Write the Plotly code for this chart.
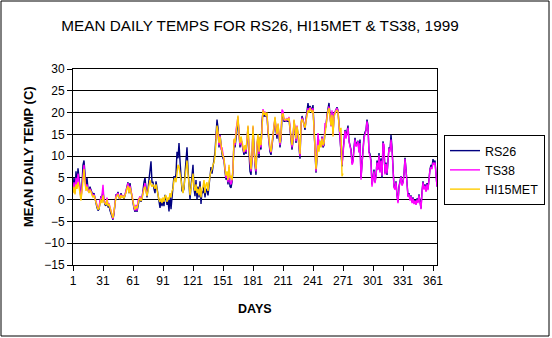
import plotly.graph_objects as go

days = list(range(1, 366))
x_tick_vals = [1, 31, 61, 91, 121, 151, 181, 211, 241, 271, 301, 331, 361]
y_tick_vals = [-15, -10, -5, 0, 5, 10, 15, 20, 25, 30]

rs26 = [
    2.5, 5.0, 2.0, 6.5, 3.5, 7.2, 5.0, 1.5, 0.2, 3.5,
    8.0, 9.0, 5.0, 3.0, 5.0, 2.5, 2.0, 3.0, 2.2, 1.5,
    1.0, 1.5, 0.0, -0.8, -1.8, -2.5, -2.2, 0.0, 0.8, 0.5,
    2.0, -0.2, -1.2, -1.4, 0.2, -1.8, -1.2, -2.5, -3.2, -4.0,
    -4.6, -3.2, -1.2, 1.2, 1.0, 1.8, 0.5, 0.0, 1.5, 0.8,
    0.8, 0.2, 1.0, 2.0, 3.0, 4.0, 1.5, 3.8, 2.0, 0.5,
    -0.8, -2.0, -2.8, -1.8, -2.8, -0.8, -0.2, 0.6, -0.5, 0.3,
    2.5, 4.0, 5.0, 2.0, 0.5, 2.5, 5.0, 6.0, 8.8, 4.0,
    4.0, 2.5, 1.5, 4.2, 2.5, 0.5, -1.0, -1.9, 0.0, -1.5,
    0.0, -1.5, 1.1, 0.5, -1.2, 0.0, -2.7, 1.0, -2.2, 1.5,
    3.0, 5.4, 4.5, 6.0, 11.0, 9.5, 13.0, 9.0, 5.0, 2.0,
    1.8, 2.5, 6.0, 9.5, 12.0, 7.0, 2.0, 0.0, 3.0, 6.5,
    8.0, 2.5, 0.8, 4.5, 0.0, 3.0, 0.5, 4.2, -1.0, 2.0,
    1.5, 3.0, 0.5, 2.5, 2.0, 1.0, 3.5, 5.5, 7.5, 6.0,
    8.5, 9.2, 11.0, 16.0, 18.4, 16.5, 12.0, 15.0, 11.5, 10.5,
    9.5, 9.0, 6.5, 4.6, 5.5, 3.5, 7.0, 3.0, 2.7, 4.0,
    6.5, 13.5, 12.0, 15.0, 16.0, 18.5, 14.5, 12.0, 14.0, 12.5,
    11.5, 10.3, 12.0, 10.5, 13.5, 16.5, 11.0, 6.5, 5.7, 9.0,
    16.5, 10.5, 8.0, 5.7, 12.5, 14.0, 9.6, 14.0, 11.5, 18.0,
    20.3, 19.0, 19.8, 19.0, 19.5, 15.5, 13.0, 11.0, 10.3, 12.5,
    15.5, 17.5, 18.5, 16.0, 14.0, 17.0, 13.5, 12.0, 14.0, 19.0,
    19.5, 18.0, 18.0, 18.2, 18.0, 18.0, 18.5, 16.0, 13.0, 11.5,
    13.5, 18.0, 16.0, 13.0, 16.5, 15.0, 12.0, 9.4, 17.0, 19.2,
    18.5, 17.5, 16.0, 18.5, 21.0, 22.2, 20.5, 21.5, 21.0, 20.5,
    21.7, 17.5, 11.5, 6.2, 9.5, 14.5, 13.0, 13.0, 12.5, 14.5,
    12.0, 12.5, 16.0, 17.0, 19.5, 21.0, 22.2, 19.5, 17.0, 20.0,
    15.0, 19.5, 20.2, 20.8, 21.2, 20.5, 17.5, 14.5, 10.0, 7.6,
    11.0, 14.5, 16.0, 14.5, 15.5, 17.0, 13.5, 12.5, 11.5, 8.4,
    9.0, 12.0, 14.2, 12.5, 13.0, 13.5, 11.0, 13.8, 5.0, 8.5,
    12.5, 14.5, 15.5, 16.0, 18.4, 17.0, 11.0, 10.5, 9.0, 3.5,
    5.0, 6.9, 4.0, 5.5, 9.0, 7.0, 10.7, 6.5, 9.5, 5.0,
    13.4, 12.0, 6.0, 8.5, 5.7, 10.7, 12.0, 11.5, 14.9, 12.0,
    6.0, 3.0, 2.5, 4.2, 1.0, -0.4, 3.0, 4.5, 5.4, 3.5,
    4.0, 6.0, 9.6, 7.0, 3.5, 0.8, 1.5, 0.0, 1.0, -0.5,
    0.5, -0.8, 0.0, -1.1, 0.3, -0.5, 1.2, -1.0, -2.0, 1.8,
    4.2, 2.5, 3.5, 2.0, 3.8, 2.5, 5.0, 7.0, 8.0, 7.5,
    9.3, 8.5, 9.0, 5.0, 3.0,
]

ts38 = [
    2.0, 4.0, 1.5, 5.0, 3.0, 6.0, 4.5, 1.2, 0.0, 3.0,
    7.0, 8.0, 4.5, 2.5, 3.5, 2.0, 1.8, 2.5, 2.0, 1.2,
    0.8, 1.2, 0.2, -0.2, -1.2, -2.0, -1.8, -0.2, 0.5, 1.0,
    3.4, 0.0, -0.8, -1.0, 0.5, -1.2, -0.8, -1.8, -2.8, -3.8,
    -4.4, -2.8, -0.8, 1.0, 1.2, 1.5, 0.8, 0.2, 1.2, 0.6,
    1.0, 0.5, 1.2, 1.8, 2.8, 3.8, 1.8, 3.2, 2.2, 0.8,
    -0.2, -1.8, -2.5, -1.2, -2.5, -0.2, 0.3, 0.8, 0.0, 0.5,
    1.8, 3.2, 3.8, 2.3, 1.0, None, None, None, None, None,
    None, None, None, None, None, None, None, None, None, None,
    None, None, None, None, None, None, None, None, None, None,
    None, None, None, None, None, None, None, None, None, None,
    None, None, None, None, None, None, None, None, None, None,
    None, None, None, None, None, None, None, None, None, None,
    None, None, None, None, None, None, None, None, None, None,
    None, None, None, 14.0, 16.5, 15.3, 12.5, 14.8, 11.5, 12.0,
    10.5, 9.8, 7.5, 5.0, 6.0, 4.0, 7.5, 4.0, 3.5, 4.5,
    7.0, 13.8, 12.5, 16.0, 17.5, 19.0, 14.8, 12.5, 13.8, 13.0,
    12.0, 10.8, 12.3, 11.0, 13.8, 16.8, 11.5, 7.5, 6.5, 9.5,
    16.8, 10.8, 8.5, 6.5, 12.8, 14.5, 10.5, 14.3, 12.0, 19.0,
    20.8, 19.8, 20.2, 19.5, 19.8, 15.8, 13.3, 11.5, 10.8, 12.8,
    15.8, 17.8, 18.8, 16.3, 14.8, 17.3, 14.0, 12.5, 14.5, 20.7,
    20.3, 18.2, 18.5, 18.2, 18.6, 18.4, 19.0, 16.8, 13.5, 12.0,
    13.8, 18.2, 16.3, 13.5, 17.0, 15.2, 12.5, 10.0, 17.3, 18.8,
    18.3, 17.2, 16.5, 18.3, 20.2, 21.0, 20.3, 21.2, 20.8, 20.3,
    21.0, 17.3, 11.8, 6.5, 10.0, 15.3, 12.5, 13.2, 12.2, 14.3,
    12.3, 12.8, 17.6, 16.8, 19.3, 20.8, 21.4, 19.2, 16.8, 20.5,
    14.8, 19.8, 20.3, 20.6, 21.0, 20.4, 17.2, 14.0, 9.5, 8.0,
    10.5, 14.0, 15.8, 14.0, 15.3, 16.5, 13.3, 12.0, 11.2, 8.0,
    8.5, 11.5, 13.8, 12.2, 12.6, 13.4, 10.8, 13.0, 4.6, 8.0,
    12.0, 14.0, 15.0, 15.8, 18.0, 16.5, 10.8, 10.0, 8.5, 3.0,
    4.8, 6.5, 3.8, 5.2, 8.5, 6.8, 10.2, 6.2, 9.0, 5.5,
    13.0, 12.6, 5.8, 8.2, 6.0, 10.5, 11.8, 11.0, 13.8, 11.5,
    5.8, 2.8, 2.3, 4.0, 0.8, -0.8, 2.8, 4.2, 5.3, 3.2,
    3.8, 5.8, 9.3, 6.8, 3.2, 0.6, 1.2, -0.2, 0.8, -0.8,
    0.3, -1.0, -0.2, -1.2, 0.0, -0.8, 1.0, -1.2, -2.2, 1.5,
    4.0, 2.3, 3.2, 1.8, 3.5, 2.2, 4.8, 6.9, 7.5, 7.0,
    8.5, 8.0, 8.5, 4.8, 3.0,
]

hi15met = [
    1.5, 3.0, 1.2, 3.5, 2.5, 4.0, 3.0, 1.0, -0.2, 2.0,
    6.0, 7.0, 4.0, 2.0, 3.0, 2.0, 1.5, 2.2, 1.8, 1.0,
    0.5, 1.0, 0.0, -0.5, -1.5, -2.3, -2.0, -0.5, 0.0, -0.8,
    1.0, -0.5, -1.0, -1.2, 0.0, -1.5, -1.0, -2.0, -3.0, -3.5,
    -4.2, -3.0, -1.0, 0.5, 0.8, 1.2, 0.5, 0.2, 1.0, 0.5,
    0.8, 0.3, 1.0, 1.5, 2.5, 3.2, 1.5, 2.8, 1.8, 0.5,
    -0.5, -1.5, -2.3, -1.5, -2.0, -0.5, 0.0, 0.5, -0.3, 0.2,
    1.5, 2.5, 3.0, 1.5, 0.8, 2.0, 3.5, 4.5, 3.5, 3.0,
    3.5, 3.0, 2.5, 3.5, 2.0, 1.0, 0.0, -0.5, 0.3, -0.8,
    0.5, -0.5, 0.8, 1.0, -0.5, 0.5, 0.0, 1.5, 0.5, 2.0,
    2.5, 4.5, 5.0, 4.0, 6.0, 8.0, 7.5, 6.0, 4.0, 2.5,
    1.5, 3.0, 5.0, 7.0, 9.0, 6.0, 3.0, 1.0, 2.5, 4.5,
    6.0, 3.0, 2.0, 3.5, 1.5, 2.5, 1.0, 3.0, 0.5, 2.5,
    3.0, 4.5, 1.5, 3.5, 4.0, 2.0, 4.5, 5.5, 6.5, 7.0,
    8.0, 8.5, 10.0, 14.5, 17.0, 15.5, 13.0, 14.5, 12.0, 11.0,
    10.0, 9.5, 7.0, 5.5, 6.5, 4.5, 8.0, 5.0, 5.5, 4.5,
    7.0, 14.0, 13.0, 15.5, 16.5, 19.3, 15.0, 13.0, 14.5, 13.5,
    12.0, 11.0, 12.5, 11.5, 14.0, 17.0, 12.0, 8.0, 7.0, 10.0,
    17.0, 11.0, 9.0, 7.0, 13.0, 15.0, 11.0, 14.5, 12.5, 18.5,
    20.5, 19.5, 20.0, 19.2, 20.0, 16.0, 13.5, 12.0, 11.0, 13.0,
    16.0, 18.0, 19.0, 16.5, 15.0, 17.5, 14.5, 13.0, 15.0, 19.5,
    19.8, 18.5, 18.3, 18.4, 18.5, 18.3, 18.8, 16.5, 14.0, 12.5,
    14.0, 18.4, 16.5, 14.0, 16.8, 15.5, 13.0, 10.5, 17.5, 18.5,
    18.0, 17.0, 16.5, 18.0, 19.5, 20.5, 20.0, 21.0, 20.5, 20.0,
    20.5, 17.0, 12.0, 7.0, 10.0, 12.5, 11.0, 13.5, 12.0, 14.0,
    12.5, 13.0, 15.0, 17.0, 19.0, 20.5, 21.0, 19.0, 17.0, 19.5,
    14.5, 19.0, 20.0, 20.3, 20.5, 20.2, 17.0, 15.5, 16.5, 5.4,
    6.0,
]

FONT = "Liberation Sans, Arial, sans-serif"
W, H = 552, 338
L, R, T, B = 73, 437, 69, 265  # plot area in pixels

fig = go.Figure()
fig.add_trace(go.Scatter(x=days, y=rs26, name="RS26", mode="lines", legendgroup="a",
                         line=dict(color="#000080", width=1.4)))
fig.add_trace(go.Scatter(x=days, y=ts38, name="TS38", mode="lines", legendgroup="b",
                         line=dict(color="#FF00FF", width=1.4), connectgaps=False))
fig.add_trace(go.Scatter(x=days[:len(hi15met)], y=hi15met, name="HI15MET", mode="lines",
                         legendgroup="c", line=dict(color="#FFCC00", width=1.4)))

pw, ph = R - L, B - T
def px(xp):
    return (xp - L) / pw
def py(yp):
    return (B - yp) / ph

fig.update_layout(
    width=W, height=H,
    margin=dict(l=L, r=W - R, t=T, b=H - B, pad=0, autoexpand=False),
    paper_bgcolor="white", plot_bgcolor="white",
    font=dict(family=FONT, size=12, color="black"),
    title=dict(text="MEAN DAILY TEMPS FOR RS26, HI15MET & TS38, 1999",
               x=260 / W, xanchor="center", y=1 - 26 / H, yanchor="middle",
               font=dict(family=FONT, size=15.3, color="black")),
    showlegend=True,
    legend=dict(x=px(444), y=py(135), xanchor="left", yanchor="top",
                bordercolor="black", borderwidth=1, bgcolor="white",
                font=dict(family=FONT, size=12.5, color="black"),
                itemwidth=30, tracegroupgap=3, traceorder="normal"),
    xaxis=dict(range=[1, 365], tickmode="array", tickvals=x_tick_vals,
               ticktext=[str(v) for v in x_tick_vals],
               showgrid=False, zeroline=False, showline=True, mirror=True,
               linecolor="black", linewidth=1, ticks="outside", ticklen=5,
               tickcolor="black", tickfont=dict(family=FONT, size=12)),
    yaxis=dict(range=[-15, 30], tickmode="array", tickvals=y_tick_vals,
               showgrid=True, gridcolor="black", gridwidth=1,
               zeroline=False, showline=True, mirror=True,
               linecolor="black", linewidth=1, ticks="outside", ticklen=5,
               tickcolor="black", tickfont=dict(family=FONT, size=12)),
    annotations=[
        dict(text="<b>DAYS</b>", xref="paper", yref="paper",
             x=px(255), y=py(309), xanchor="center", yanchor="middle",
             showarrow=False, font=dict(family=FONT, size=12.5, color="black")),
        dict(text="<b>MEAN DAILY TEMP (C)</b>", xref="paper", yref="paper",
             x=px(28), y=py(157), xanchor="center", yanchor="middle", textangle=-90,
             showarrow=False, font=dict(family=FONT, size=13, color="black")),
    ],
    shapes=[
        dict(type="rect", xref="paper", yref="paper",
             x0=px(1), x1=px(549), y0=py(336), y1=py(1),
             line=dict(color="black", width=1), fillcolor="rgba(0,0,0,0)", layer="above"),
    ],
)

fig.write_html("out.html", config={"displayModeBar": False},
               post_script="document.body.style.margin='0';document.body.style.overflow='hidden';")
